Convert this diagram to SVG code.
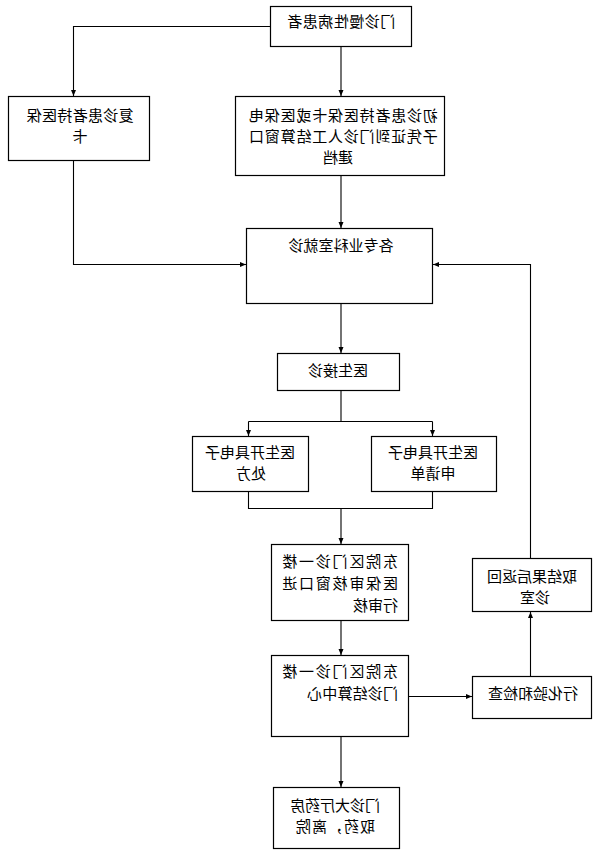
<svg xmlns="http://www.w3.org/2000/svg" width="598" height="854" viewBox="0 0 598 854">
<defs>
<marker id="ah" markerUnits="userSpaceOnUse" markerWidth="7" markerHeight="6" refX="6" refY="3" orient="auto">
<path d="M0,0.5 L6,3 L0,5.5 z" fill="#000"/>
</marker>
<style>
.box{fill:#fff;stroke:#000;stroke-width:1.2}
.t{font-family:"Noto Sans CJK SC","Noto Sans CJK JP",sans-serif;font-size:15px;fill:#000}
.m{text-anchor:middle}
.s{text-anchor:start}
.c{fill:none;stroke:#000;stroke-width:1.1}
.a{marker-end:url(#ah)}
</style>
</defs>
<rect width="598" height="854" fill="#fff"/>
<g id="connectors">
<path class="c a" d="M270.5,26.5 H73.5 V96"/>
<path class="c a" d="M341,47 V96"/>
<path class="c a" d="M73.5,161 V264.5 H246"/>
<path class="c a" d="M341,176 V228"/>
<path class="c a" d="M530.5,558 V264.5 H433"/>
<path class="c a" d="M341,303 V353"/>
<path class="c" d="M341,390 V421.5 M248.5,421.5 H432.5"/>
<path class="c a" d="M248.5,421.5 V436"/>
<path class="c a" d="M432.5,421.5 V436"/>
<path class="c" d="M248.5,492 V508.5 H432.5 V492"/>
<path class="c a" d="M341,508.5 V544"/>
<path class="c a" d="M341,621 V655"/>
<path class="c a" d="M408,696.5 H472"/>
<path class="c a" d="M530.5,676 V612"/>
<path class="c a" d="M341,736 V787"/>
</g>
<g id="n1">
<rect class="box" x="270.5" y="6.5" width="141" height="40"/>
<text class="t m" x="341" y="27" letter-spacing="0.5" transform="matrix(-1 0 0 1 682 0)">门诊慢性病患者</text>
</g>
<g id="n2">
<rect class="box" x="8.5" y="96.5" width="141" height="64"/>
<text class="t m" x="80" y="120.5" letter-spacing="0.3" transform="matrix(-1 0 0 1 160 0)">复诊患者持医保</text>
<text class="t m" x="80" y="142" transform="matrix(-1 0 0 1 160 0)">卡</text>
</g>
<g id="n3">
<rect class="box" x="235.5" y="96.5" width="209" height="79"/>
<text class="t m" x="343" y="121" letter-spacing="0.8" transform="matrix(-1 0 0 1 686 0)">初诊患者持医保卡或医保电</text>
<text class="t m" x="343" y="142" letter-spacing="0.8" transform="matrix(-1 0 0 1 686 0)">子凭证到门诊人工结算窗口</text>
<text class="t m" x="338" y="163" transform="matrix(-1 0 0 1 676 0)">建档</text>
</g>
<g id="n4">
<rect class="box" x="246.5" y="228.5" width="186" height="75"/>
<text class="t m" x="341" y="251" transform="matrix(-1 0 0 1 682 0)">各专业科室就诊</text>
</g>
<g id="n5">
<rect class="box" x="277.5" y="353.5" width="122" height="37"/>
<text class="t m" x="338" y="376" transform="matrix(-1 0 0 1 676 0)">医生接诊</text>
</g>
<g id="n6">
<rect class="box" x="192.5" y="436.5" width="116" height="55"/>
<text class="t m" x="250" y="458" transform="matrix(-1 0 0 1 500 0)">医生开具电子</text>
<text class="t m" x="251" y="479" transform="matrix(-1 0 0 1 502 0)">处方</text>
</g>
<g id="n7">
<rect class="box" x="371.5" y="436.5" width="125" height="55"/>
<text class="t m" x="433" y="458" transform="matrix(-1 0 0 1 866 0)">医生开具电子</text>
<text class="t m" x="433" y="479" transform="matrix(-1 0 0 1 866 0)">申请单</text>
</g>
<g id="n8">
<rect class="box" x="271.5" y="544.5" width="137" height="76"/>
<text class="t s" x="398" y="567" letter-spacing="1.8" transform="matrix(-1 0 0 1 796 0)">东院区门诊一楼</text>
<text class="t s" x="398" y="589" letter-spacing="1.8" transform="matrix(-1 0 0 1 796 0)">医保审核窗口进</text>
<text class="t s" x="398" y="611" transform="matrix(-1 0 0 1 796 0)">行审核</text>
</g>
<g id="n9">
<rect class="box" x="271.5" y="655.5" width="137" height="81"/>
<text class="t s" x="398" y="677" letter-spacing="1.8" transform="matrix(-1 0 0 1 796 0)">东院区门诊一楼</text>
<text class="t s" x="398" y="699" letter-spacing="0.2" transform="matrix(-1 0 0 1 796 0)">门诊结算中心</text>
</g>
<g id="n10">
<rect class="box" x="472.5" y="676.5" width="119" height="42"/>
<text class="t m" x="533" y="699" transform="matrix(-1 0 0 1 1066 0)">行化验和检查</text>
</g>
<g id="n11">
<rect class="box" x="472.5" y="558.5" width="119" height="53"/>
<text class="t m" x="532" y="582" transform="matrix(-1 0 0 1 1064 0)">取结果后返回</text>
<text class="t m" x="535" y="603" transform="matrix(-1 0 0 1 1070 0)">诊室</text>
</g>
<g id="n12">
<rect class="box" x="273.5" y="787.5" width="126" height="61"/>
<text class="t m" x="335" y="811" transform="matrix(-1 0 0 1 670 0)">门诊大厅药房</text>
<text class="t m" x="335" y="832" letter-spacing="1" transform="matrix(-1 0 0 1 670 0)">取药，离院</text>
</g>
</svg>
